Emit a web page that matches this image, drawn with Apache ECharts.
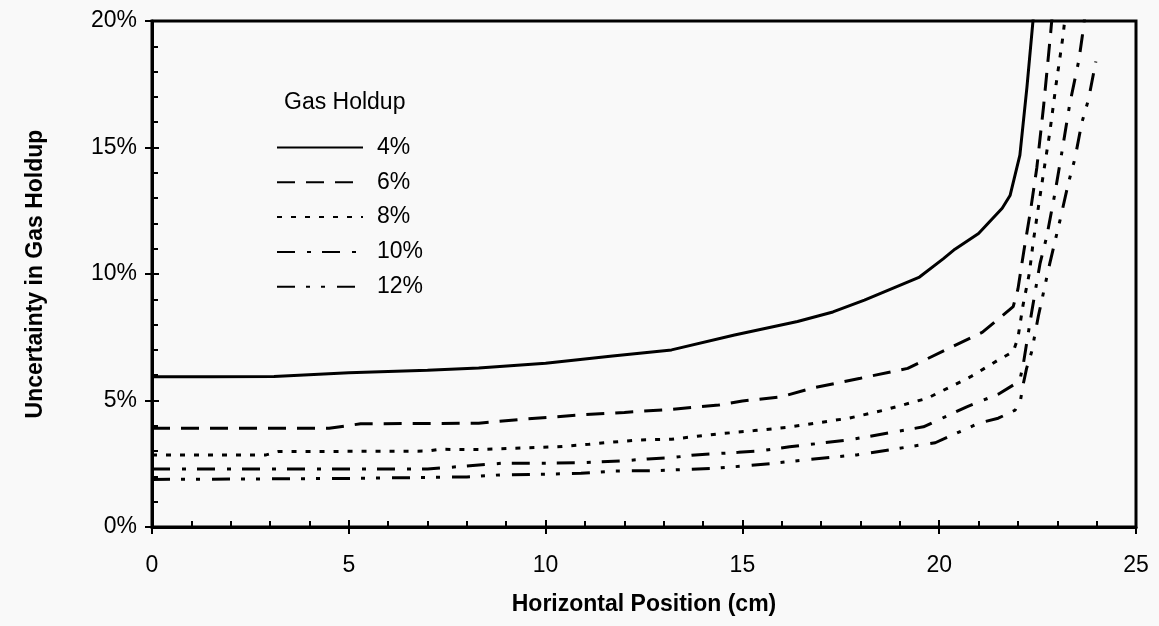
<!DOCTYPE html>
<html>
<head>
<meta charset="utf-8">
<script src="https://cdn.jsdelivr.net/npm/echarts@6/dist/echarts.min.js"></script>
<style>
html,body{margin:0;padding:0;background:#f9f9f9;}
#chart{width:1159px;height:626px;}
</style>
</head>
<body>
<div id="chart"></div>
<script>
// Horizontal position (cm), uncertainty (%) pairs
const seriesNames = ['4%', '6%', '8%', '10%', '12%'];
const holdup4 = [[0,5.94],[1.5,5.94],[3.1,5.95],[5,6.1],[7,6.2],[8.3,6.28],[10,6.47],[11.7,6.76],[13.2,7.0],[14.8,7.59],[16.4,8.12],[17.3,8.5],[18.1,8.97],[19.5,9.88],[20.1,10.6],[20.4,10.98],[21.0,11.6],[21.6,12.6],[21.8,13.1],[22.05,14.7],[22.23,17.4],[22.4,20.3]];
const holdup6 = [[0,3.9],[4.5,3.9],[5.3,4.08],[8.3,4.1],[9.5,4.27],[10.9,4.43],[12,4.53],[13.2,4.65],[14.4,4.82],[15,4.98],[16.0,5.15],[16.8,5.5],[18.0,5.88],[19.2,6.27],[20.36,7.15],[21.1,7.7],[21.88,8.71],[22.0,9.4],[22.15,10.9],[22.32,12.5],[22.48,14.2],[22.65,16.6],[22.83,19.5],[22.87,20.2]];
const holdup8 = [[0,2.85],[2.9,2.85],[3.2,2.98],[7,3.0],[7.3,3.07],[8.3,3.06],[10.3,3.17],[11.1,3.27],[11.5,3.33],[12.4,3.44],[13.2,3.47],[14.4,3.68],[15.3,3.81],[16.1,3.93],[17.7,4.3],[18.6,4.62],[19.7,5.09],[20.8,5.94],[21.5,6.6],[21.88,6.93],[22.0,7.47],[22.13,8.77],[22.29,10.03],[22.39,11.28],[22.56,13.06],[22.69,14.4],[22.81,15.6],[22.97,17.5],[23.15,19.45],[23.2,20.2]];
const holdup10 = [[0,2.29],[7,2.29],[8.9,2.52],[10,2.52],[10.9,2.54],[12,2.62],[12.6,2.69],[13.2,2.74],[13.8,2.85],[14.9,2.95],[15.4,3.0],[16.2,3.17],[17.7,3.44],[19.6,3.96],[20.7,4.75],[21.5,5.25],[21.88,5.61],[22.05,5.81],[22.14,6.47],[22.35,8.5],[22.56,10.4],[22.73,11.47],[22.94,13.19],[23.14,15.03],[23.32,16.75],[23.55,18.46],[23.64,19.45],[23.7,20.2]];
const holdup12 = [[0,1.88],[5,1.92],[8,1.98],[8.84,2.06],[10,2.09],[10.9,2.12],[11.7,2.21],[12.8,2.23],[14.3,2.32],[15.1,2.42],[15.8,2.52],[16.4,2.62],[17.9,2.85],[19.9,3.33],[21.0,4.1],[21.5,4.3],[21.93,4.62],[22.07,5.05],[22.14,5.68],[22.22,6.27],[22.35,6.93],[22.52,8.34],[22.81,10.42],[23.07,12.13],[23.28,13.58],[23.45,14.57],[23.62,15.96],[23.79,16.88],[23.98,18.4]];
const xTicks = [0, 5, 10, 15, 20, 25];
const yTicks = [0, 5, 10, 15, 20];

const dashes = ['solid', [18, 11], [5, 9], [18, 12, 4, 11], [18, 11, 4, 11, 4, 12]];
const allData = [holdup4, holdup6, holdup8, holdup10, holdup12];
const FONT = "'Liberation Sans', Arial, Helvetica, sans-serif";
const FS = 23;

const chart = echarts.init(document.getElementById('chart'), null, {renderer: 'canvas'});
const axisCommon = {
  splitLine: {show: false},
  minorSplitLine: {show: false}
};
chart.setOption({
  backgroundColor: '#f9f9f9',
  animation: false,
  title: {
    text: 'Gas Holdup', left: 279, top: 86,
    textStyle: {fontFamily: FONT, fontSize: FS, fontWeight: 'normal', color: '#000'}
  },
  legend: {
    orient: 'vertical', left: 271, top: 131,
    itemWidth: 86, itemHeight: 22, itemGap: 11.8,
    data: seriesNames,
    itemStyle: {opacity: 0, color: 'rgba(0,0,0,0)', borderWidth: 0},
    textStyle: {fontFamily: FONT, fontSize: FS, lineHeight: 22, color: '#000', padding: [0, 0, 0, 9]}
  },
  grid: {
    left: 152, right: 23, top: 21, bottom: 99,
    show: true, borderColor: '#000', borderWidth: 3, backgroundColor: 'transparent'
  },
  xAxis: [
    Object.assign({
      type: 'value', min: xTicks[0], max: xTicks[xTicks.length - 1], interval: 5, position: 'bottom',
      axisLine: {lineStyle: {color: '#000', width: 3}},
      axisTick: {inside: true, length: 7, lineStyle: {color: '#000', width: 2}},
      minorTick: {show: true, splitNumber: 5, length: 6, lineStyle: {color: '#000', width: 2}},
      axisLabel: {margin: 27, fontFamily: FONT, fontSize: FS, color: '#000'},
      name: 'Horizontal Position (cm)', nameLocation: 'middle', nameGap: 66,
      nameTextStyle: {fontFamily: FONT, fontSize: FS, fontWeight: 'bold', color: '#000'}
    }, axisCommon),
    Object.assign({
      type: 'value', min: xTicks[0], max: xTicks[xTicks.length - 1], interval: 5, position: 'bottom',
      axisLine: {show: false},
      axisTick: {inside: false, length: 7, lineStyle: {color: '#000', width: 2}},
      axisLabel: {show: false}
    }, axisCommon)
  ],
  yAxis: [
    Object.assign({
      type: 'value', min: yTicks[0], max: yTicks[yTicks.length - 1], interval: 5, position: 'left',
      axisLine: {lineStyle: {color: '#000', width: 3}},
      axisTick: {inside: true, length: 7, lineStyle: {color: '#000', width: 2}},
      minorTick: {show: true, splitNumber: 5, length: 6, lineStyle: {color: '#000', width: 2}},
      axisLabel: {margin: 15, fontFamily: FONT, fontSize: FS, color: '#000', formatter: '{value}%'},
      name: 'Uncertainty in Gas Holdup', nameLocation: 'middle', nameGap: 105,
      nameTextStyle: {fontFamily: FONT, fontSize: FS, fontWeight: 'bold', color: '#000'}
    }, axisCommon),
    Object.assign({
      type: 'value', min: yTicks[0], max: yTicks[yTicks.length - 1], interval: 5, position: 'left',
      axisLine: {show: false},
      axisTick: {inside: false, length: 7, lineStyle: {color: '#000', width: 2}},
      axisLabel: {show: false}
    }, axisCommon)
  ],
  series: allData.map((d, i) => ({
    name: seriesNames[i], type: 'line', data: d,
    xAxisIndex: 0, yAxisIndex: 0,
    symbol: 'none', clip: true, smooth: false,
    lineStyle: {color: '#000', width: 3, type: dashes[i]},
    itemStyle: {color: '#000'}
  }))
});
</script>
</body>
</html>
